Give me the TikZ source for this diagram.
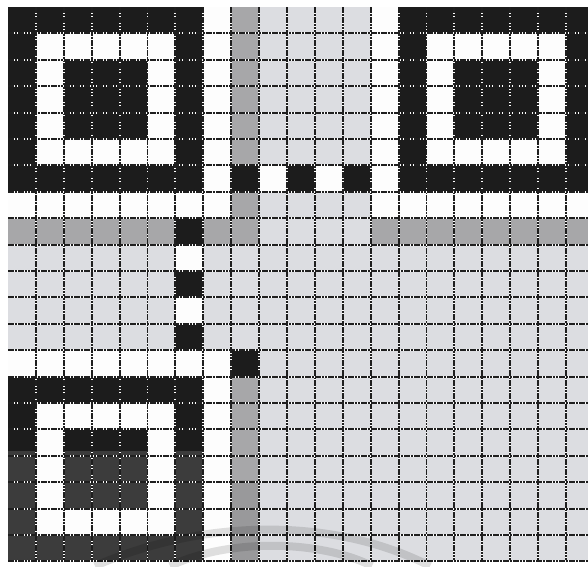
\documentclass[tikz,border=0pt]{standalone}
\usepackage{tikz}
\definecolor{qblack}{HTML}{1C1C1C}
\definecolor{qwhite}{HTML}{FDFDFD}
\definecolor{qlight}{HTML}{DCDDE1}
\definecolor{qdark}{HTML}{A7A7A9}
\tikzset{
  cK/.style={fill=qblack},
  cW/.style={fill=qwhite},
  cL/.style={fill=qlight},
  cD/.style={fill=qdark},
  gridbase/.style={draw=white, line width=1.9pt},
  griddash/.style={draw=black!88, line width=1.9pt, dash pattern=on 2.6pt off 0.7pt},
  glare/.style={draw=black, opacity=0.12, line width=8pt},
}
% #1 style, #2 c1, #3 r1, #4 c2, #5 r2
\newcommand{\qcell}[5]{\fill[#1] ({8+27.9*(#2)},{7+26.4*(#3)}) rectangle ({8+27.9*(#4+1)},{7+26.4*(#5+1)});}
\newcommand{\qfinder}[2]{%
  \qcell{cK}{#1}{#2}{#1+6}{#2+6}
  \qcell{cW}{#1+1}{#2+1}{#1+5}{#2+5}
  \qcell{cK}{#1+2}{#2+2}{#1+4}{#2+4}}
\begin{document}
\begin{tikzpicture}[x=1pt,y=-1pt]
\useasboundingbox (0,0) rectangle (588,566);
\clip (0,0) rectangle (588,566);
\fill[white] (0,0) rectangle (588,566);
% base light grey data area
\qcell{cL}{0}{0}{20}{20}
% white separators / quiet zones around finders
\qcell{cW}{0}{0}{7}{7}
\qcell{cW}{13}{0}{20}{7}
\qcell{cW}{0}{13}{7}{20}
% format information (dark grey)
\qcell{cD}{8}{0}{8}{8}
\qcell{cD}{0}{8}{8}{8}
\qcell{cD}{13}{8}{20}{8}
\qcell{cD}{8}{14}{8}{20}
% finder patterns
\qfinder{0}{0}
\qfinder{14}{0}
\qfinder{0}{14}
% timing patterns
\qcell{cK}{8}{6}{8}{6}
\qcell{cW}{9}{6}{9}{6}
\qcell{cK}{10}{6}{10}{6}
\qcell{cW}{11}{6}{11}{6}
\qcell{cK}{12}{6}{12}{6}
\qcell{cK}{6}{8}{6}{8}
\qcell{cW}{6}{9}{6}{9}
\qcell{cK}{6}{10}{6}{10}
\qcell{cW}{6}{11}{6}{11}
\qcell{cK}{6}{12}{6}{12}
% dark module
\qcell{cK}{8}{13}{8}{13}
% photographic shading at the lower left
\fill[white, opacity=0.14] (0,451) rectangle (203,561.4);
\fill[black, opacity=0.08] (230,480) rectangle (258,561.4);
% grid lines
\foreach \k in {1,...,20} {
  \draw[gridbase] ({8+27.9*\k},7) -- ({8+27.9*\k},561.4);
  \draw[griddash] ({8+27.9*\k},7) -- ({8+27.9*\k},561.4);
}
\foreach \k in {1,...,21} {
  \draw[gridbase] (8,{7+26.4*\k}) -- (588,{7+26.4*\k});
  \draw[griddash] (8,{7+26.4*\k}) -- (588,{7+26.4*\k});
}
% glare arcs
\draw[glare] (95,566) .. controls (200,520) and (330,515) .. (430,566);
\draw[glare] (170,566) .. controls (230,538) and (320,540) .. (372,566);
\end{tikzpicture}
\end{document}
